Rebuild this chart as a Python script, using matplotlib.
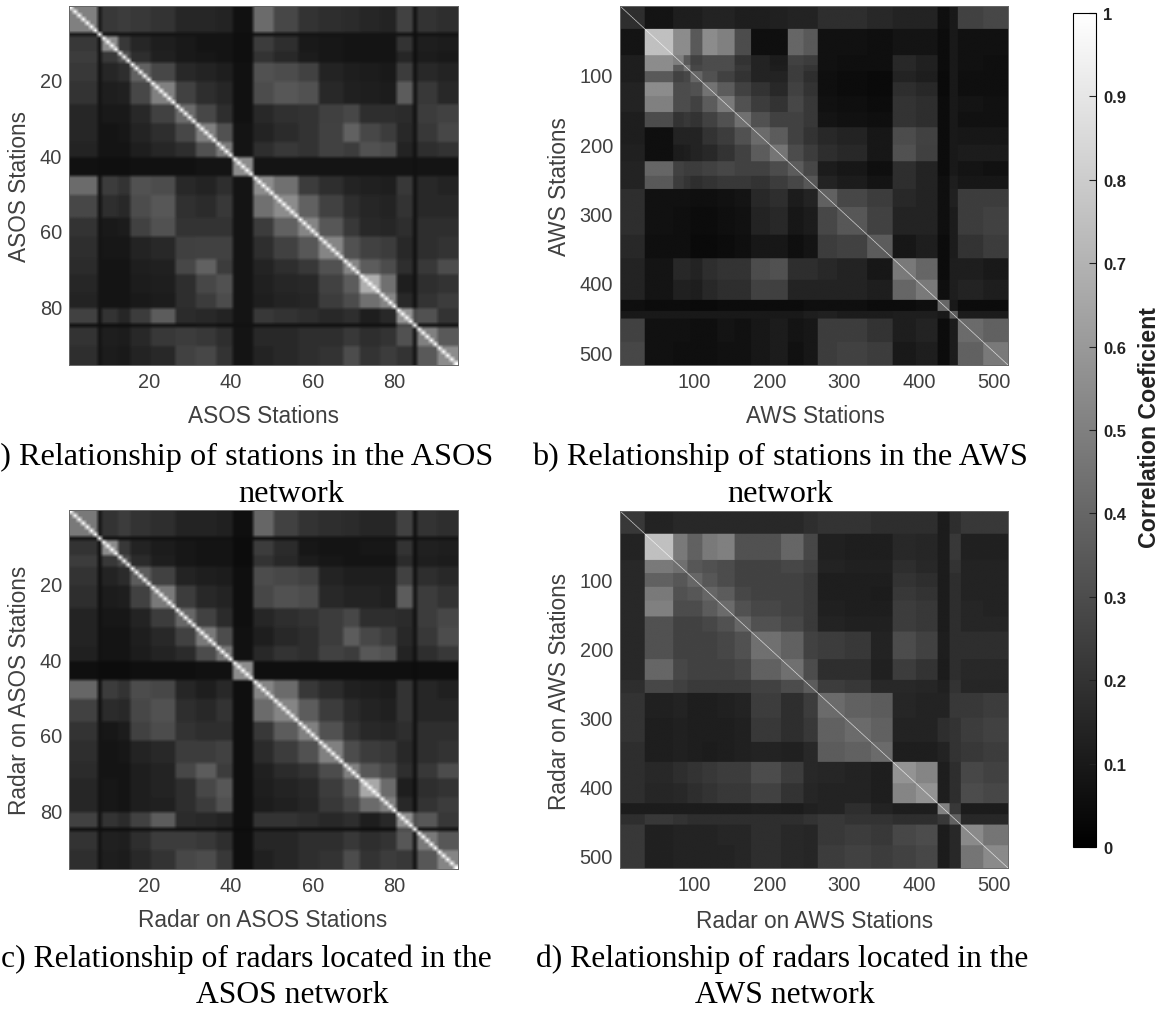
import numpy as np
from matplotlib import pyplot as plt
from matplotlib.cm import ScalarMappable
from matplotlib.colors import Normalize

# values are read off the picture as blocks of stations, in hundredths of r
# each list is one row of the upper triangle, the matrices are symmetric
asos_edges = [0, 7, 8, 12, 15, 20, 26, 31, 36, 40, 45, 50, 56, 61, 67, 71, 76, 80, 84, 85, 90, 95]
aws_edges = [0, 33, 71, 85, 94, 110, 130, 153, 175, 200, 224, 245, 264, 290, 330, 364, 395, 424, 440, 451, 485, 518]
radar_aws_edges = [0, 33, 71, 90, 110, 130, 153, 175, 215, 245, 264, 300, 335, 364, 395, 424, 440, 455, 485, 518]

asos_tri = [
    [50, 10, 22, 24, 22, 20, 15, 15, 14, 7, 42, 28, 20, 18, 17, 15, 14, 26, 7, 20, 18],
    [100, 8, 8, 8, 8, 8, 8, 8, 6, 8, 8, 8, 8, 8, 8, 8, 8, 6, 8, 8],
    [55, 22, 15, 12, 10, 8, 8, 6, 24, 18, 10, 9, 8, 8, 8, 20, 6, 12, 11],
    [32, 18, 13, 10, 9, 8, 6, 20, 16, 11, 9, 8, 8, 8, 15, 6, 11, 10],
    [38, 28, 16, 14, 12, 7, 32, 30, 26, 14, 12, 11, 10, 24, 7, 16, 14],
    [50, 26, 18, 15, 7, 30, 34, 32, 16, 13, 12, 11, 36, 8, 22, 16],
    [42, 28, 18, 7, 16, 19, 20, 25, 28, 18, 18, 17, 7, 24, 26],
    [50, 32, 8, 14, 17, 20, 26, 38, 28, 24, 16, 8, 22, 28],
    [48, 8, 18, 22, 20, 26, 24, 32, 30, 14, 7, 18, 20],
    [55, 8, 8, 8, 8, 8, 8, 8, 8, 7, 8, 8],
    [55, 44, 24, 18, 14, 13, 12, 22, 7, 16, 14],
    [55, 38, 26, 18, 15, 14, 20, 7, 16, 16],
    [52, 34, 22, 16, 15, 18, 7, 18, 18],
    [52, 32, 26, 24, 16, 7, 18, 20],
    [52, 36, 30, 18, 7, 22, 30],
    [68, 44, 12, 7, 18, 20],
    [52, 16, 7, 20, 24],
    [58, 28, 32, 20],
    [100, 8, 8],
    [50, 35],
    [55],
]

aws_tri = [
    [18, 8, 12, 12, 12, 14, 14, 12, 12, 13, 14, 14, 18, 18, 16, 14, 14, 6, 10, 26, 28],
    [75, 55, 55, 35, 55, 50, 30, 6, 6, 40, 35, 7, 7, 6, 8, 8, 5, 10, 7, 7],
    [50, 35, 26, 30, 30, 20, 14, 11, 26, 24, 7, 6, 6, 16, 13, 5, 10, 7, 6],
    [45, 28, 30, 30, 22, 14, 12, 24, 21, 7, 6, 6, 16, 13, 5, 10, 7, 6],
    [40, 32, 26, 20, 14, 14, 24, 18, 6, 5, 4, 14, 12, 4, 10, 6, 6],
    [45, 36, 26, 20, 16, 26, 20, 6, 5, 4, 18, 16, 4, 10, 6, 6],
    [48, 32, 24, 20, 28, 22, 7, 6, 5, 20, 18, 5, 10, 8, 7],
    [44, 32, 26, 26, 22, 8, 7, 6, 20, 18, 5, 10, 7, 7],
    [42, 36, 26, 20, 16, 14, 9, 30, 26, 5, 10, 9, 9],
    [46, 30, 24, 18, 16, 9, 32, 25, 5, 10, 11, 11],
    [36, 28, 11, 9, 6, 18, 14, 5, 10, 8, 7],
    [34, 14, 11, 8, 18, 14, 6, 12, 9, 9],
    [38, 28, 24, 16, 14, 6, 13, 24, 24],
    [34, 26, 14, 14, 6, 11, 24, 26],
    [36, 9, 12, 5, 11, 20, 24],
    [48, 40, 5, 12, 12, 10],
    [48, 6, 12, 14, 12],
    [40, 10, 5, 5],
    [36, 11, 11],
    [42, 38],
    [48],
]

radar_asos_tri = [
    [48, 9, 20, 24, 20, 18, 14, 14, 13, 6, 40, 26, 20, 18, 17, 15, 15, 26, 7, 20, 18],
    [100, 7, 7, 7, 7, 7, 7, 7, 5, 7, 7, 8, 8, 8, 8, 8, 8, 6, 8, 8],
    [55, 22, 14, 11, 9, 8, 8, 5, 24, 17, 9, 8, 8, 9, 9, 20, 6, 13, 12],
    [30, 17, 12, 9, 8, 8, 5, 20, 16, 11, 9, 8, 8, 8, 17, 6, 12, 11],
    [36, 26, 14, 12, 11, 6, 30, 28, 26, 14, 12, 12, 12, 26, 7, 18, 16],
    [48, 24, 16, 14, 6, 28, 32, 30, 16, 14, 14, 13, 36, 8, 24, 20],
    [40, 26, 17, 6, 15, 18, 20, 24, 28, 18, 18, 17, 7, 24, 28],
    [48, 30, 7, 12, 16, 18, 24, 36, 28, 24, 16, 8, 22, 30],
    [46, 7, 16, 20, 18, 26, 24, 34, 32, 14, 7, 18, 22],
    [55, 6, 6, 6, 6, 6, 6, 6, 6, 5, 6, 6],
    [52, 42, 22, 17, 13, 12, 11, 20, 7, 15, 13],
    [52, 36, 24, 17, 14, 13, 20, 7, 15, 15],
    [50, 32, 20, 16, 15, 18, 7, 18, 18],
    [50, 30, 24, 22, 16, 7, 18, 20],
    [50, 34, 28, 18, 7, 22, 30],
    [66, 42, 12, 6, 18, 20],
    [50, 16, 6, 20, 24],
    [56, 30, 34, 22],
    [100, 8, 8],
    [48, 34],
    [52],
]

radar_aws_tri = [
    [22, 14, 16, 16, 16, 16, 16, 16, 16, 18, 20, 20, 18, 18, 18, 11, 18, 22, 22],
    [75, 48, 38, 48, 50, 32, 32, 40, 28, 13, 12, 12, 16, 15, 11, 22, 13, 13],
    [44, 34, 32, 30, 26, 26, 28, 25, 14, 13, 13, 18, 16, 11, 20, 14, 14],
    [40, 34, 30, 26, 26, 26, 23, 12, 12, 12, 20, 18, 11, 18, 14, 14],
    [40, 36, 28, 26, 26, 23, 12, 12, 11, 22, 20, 11, 18, 14, 14],
    [42, 32, 28, 26, 23, 13, 12, 12, 24, 22, 11, 18, 15, 14],
    [40, 32, 28, 23, 14, 13, 13, 24, 22, 11, 18, 15, 15],
    [44, 38, 26, 24, 22, 14, 30, 26, 12, 18, 18, 18],
    [44, 30, 18, 18, 13, 24, 20, 11, 18, 16, 16],
    [36, 24, 22, 16, 16, 15, 13, 20, 15, 15],
    [42, 38, 36, 15, 14, 14, 22, 22, 24],
    [42, 38, 14, 14, 18, 20, 24, 26],
    [42, 12, 12, 14, 20, 22, 24],
    [58, 52, 12, 18, 28, 26],
    [58, 12, 18, 30, 28],
    [50, 22, 11, 11],
    [38, 16, 16],
    [54, 46],
    [54],
]

asos_ticks = [20, 40, 60, 80]
aws_ticks = [100, 200, 300, 400, 500]
cbar_ticks = [0, 0.1, 0.2, 0.3, 0.4, 0.5, 0.6, 0.7, 0.8, 0.9, 1]
cbar_labels = ['0', '0.1', '0.2', '0.3', '0.4', '0.5', '0.6', '0.7', '0.8', '0.9', '1']

W, H = 1164, 1012
TXT = '#404040'
plt.rcParams['font.family'] = ['Liberation Sans', 'DejaVu Sans']


def full_matrix(edges, tri):
    # symmetric block matrix per station, r = 1 on the diagonal
    n = len(tri)
    m = np.zeros((n, n))
    for i, row in enumerate(tri):
        m[i, i:] = row
        m[i:, i] = row
    sizes = np.diff(edges)
    m = np.repeat(np.repeat(m, sizes, axis=0), sizes, axis=1) / 100.0
    np.fill_diagonal(m, 1.0)
    return m


def add_panel(fig, box, m, ticks, interp):
    x0, y0, x1, y1 = box
    ax = fig.add_axes([x0 / W, 1 - y1 / H, (x1 - x0) / W, (y1 - y0) / H])
    ax.imshow(m, cmap='gray', vmin=0, vmax=1, aspect='auto', interpolation=interp,
              extent=[0.5, m.shape[1] + 0.5, m.shape[0] + 0.5, 0.5])
    ax.set_xticks(ticks)
    ax.set_yticks(ticks)
    ax.tick_params(length=0, labelsize=14.4, labelcolor=TXT, pad=5)
    for s in ax.spines.values():
        s.set_color('#666666')
        s.set_linewidth(0.7)
    return ax


def ptext(fig, x, y, s, va='center', **kw):
    fig.text(x / W, 1 - y / H, s, ha='center', va=va, **kw)


fig = plt.figure(figsize=(W / 100, H / 100), dpi=100)

add_panel(fig, (69, 7, 458, 366), full_matrix(asos_edges, asos_tri), asos_ticks, 'bilinear')
add_panel(fig, (620, 7, 1008, 366), full_matrix(aws_edges, aws_tri), aws_ticks, 'antialiased')
add_panel(fig, (69, 511, 458, 870), full_matrix(asos_edges, radar_asos_tri), asos_ticks, 'bilinear')
add_panel(fig, (620, 512, 1008, 869), full_matrix(radar_aws_edges, radar_aws_tri), aws_ticks, 'antialiased')

# axis labels
lab = dict(fontsize=16.3, color=TXT)
ptext(fig, 263, 417, 'ASOS Stations', **lab)
ptext(fig, 815, 417, 'AWS Stations', **lab)
ptext(fig, 263, 921, 'Radar on ASOS Stations', **lab)
ptext(fig, 815, 922, 'Radar on AWS Stations', **lab)
ptext(fig, 20, 187, 'ASOS Stations', rotation=90, **lab)
ptext(fig, 560, 187, 'AWS Stations', rotation=90, **lab)
ptext(fig, 20, 690, 'Radar on ASOS Stations', rotation=90, **lab)
ptext(fig, 560, 691, 'Radar on AWS Stations', rotation=90, **lab)

# captions, the a) and c) lines run off the left edge like in the source
cap = dict(fontsize=23.2, color='black', family='Liberation Serif', va='baseline')
cap2 = dict(cap, fontsize=22.8)
ptext(fig, 240, 465, 'a) Relationship of stations in the ASOS', **cap)
ptext(fig, 291, 502, 'network', **cap)
ptext(fig, 780, 465, 'b) Relationship of stations in the AWS', **cap)
ptext(fig, 780, 502, 'network', **cap)
ptext(fig, 246, 967, 'c) Relationship of radars located in the', **cap2)
ptext(fig, 292, 1003, 'ASOS network', **cap2)
ptext(fig, 782, 967, 'd) Relationship of radars located in the', **cap2)
ptext(fig, 785, 1003, 'AWS network', **cap2)

# colorbar
cax = fig.add_axes([1073 / W, 1 - 848 / H, 23 / W, (848 - 14) / H])
cb = fig.colorbar(ScalarMappable(Normalize(0, 1), cmap='gray'), cax=cax)
cb.set_ticks(cbar_ticks)
cb.set_ticklabels(cbar_labels)
cax.tick_params(direction='in', length=5, width=0.8, labelsize=12, pad=5, colors='#222222')
for t in cax.get_yticklabels():
    t.set_fontweight('bold')
cb.outline.set_linewidth(0.8)
ptext(fig, 1149, 428, 'Correlation Coeficient', rotation=90, fontsize=16.7, fontweight='bold', color='#222222')

fig.savefig('out.png', dpi=100)
